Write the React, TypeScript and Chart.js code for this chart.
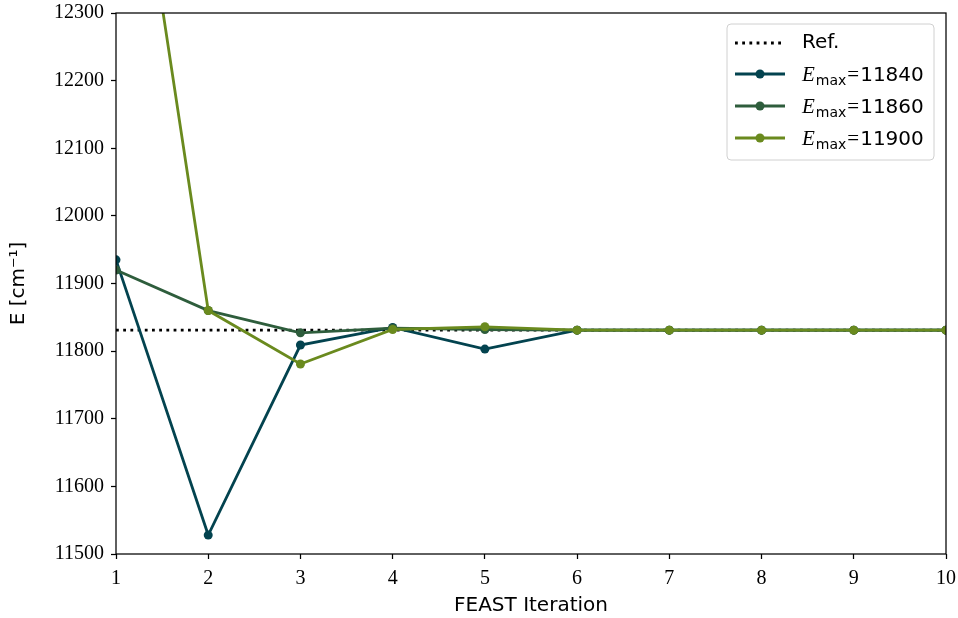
import React, { useEffect, useRef } from 'react';
import { Chart, registerables } from 'chart.js';

Chart.register(...registerables);

const iterations = [1, 2, 3, 4, 5, 6, 7, 8, 9, 10];
const refEnergy = 11831;
const emax11840 = [11935, 11528, 11809, 11835, 11803, 11831, 11831, 11831, 11831, 11831];
const emax11860 = [11920, 11860, 11827, 11834, 11832, 11831, 11831, 11831, 11831, 11831];
const emax11900 = [12760, 11860, 11781, 11832, 11836, 11831, 11831, 11831, 11831, 11831];
const yTickValues = [11500, 11600, 11700, 11800, 11900, 12000, 12100, 12200, 12300];
const xTickValues = [1, 2, 3, 4, 5, 6, 7, 8, 9, 10];
const legendValues = ['11840', '11860', '11900'];
const seriesColors = ['#03434f', '#2e5d3c', '#6a8a1e'];

const SANS = '"DejaVu Sans", sans-serif';
const SERIF = '"Liberation Serif", "DejaVu Serif", serif';

const framePlugin = {
  id: 'frameAndLegend',
  afterDatasetsDraw(chart: any) {
    const { ctx, chartArea } = chart;
    const { left, right, top, bottom } = chartArea;
    ctx.save();
    ctx.strokeStyle = '#000';
    ctx.lineWidth = 1.25;
    ctx.strokeRect(left, top, right - left, bottom - top);

    // legend
    const bw = 207;
    const bh = 136;
    const bx = right - 12 - bw;
    const by = top + 11;
    ctx.beginPath();
    const r = 4;
    ctx.moveTo(bx + r, by);
    ctx.lineTo(bx + bw - r, by);
    ctx.quadraticCurveTo(bx + bw, by, bx + bw, by + r);
    ctx.lineTo(bx + bw, by + bh - r);
    ctx.quadraticCurveTo(bx + bw, by + bh, bx + bw - r, by + bh);
    ctx.lineTo(bx + r, by + bh);
    ctx.quadraticCurveTo(bx, by + bh, bx, by + bh - r);
    ctx.lineTo(bx, by + r);
    ctx.quadraticCurveTo(bx, by, bx + r, by);
    ctx.closePath();
    ctx.fillStyle = 'rgba(255,255,255,0.8)';
    ctx.fill();
    ctx.strokeStyle = '#d0d0d0';
    ctx.lineWidth = 1;
    ctx.stroke();

    const rows = [by + 19, by + 50, by + 82, by + 114];
    const sx0 = bx + 8;
    const sx1 = bx + 58;
    const tx = bx + 75;
    ctx.textBaseline = 'middle';
    ctx.textAlign = 'left';

    // Ref row
    ctx.strokeStyle = '#000';
    ctx.lineWidth = 2.8;
    ctx.setLineDash([2.8, 4.4]);
    ctx.beginPath();
    ctx.moveTo(sx0, rows[0]);
    ctx.lineTo(sx1, rows[0]);
    ctx.stroke();
    ctx.setLineDash([]);
    ctx.fillStyle = '#000';
    ctx.font = `20px ${SANS}`;
    ctx.fillText('Ref.', tx, rows[0]);

    legendValues.forEach((val, i) => {
      const y = rows[i + 1];
      ctx.strokeStyle = seriesColors[i];
      ctx.lineWidth = 2.8;
      ctx.beginPath();
      ctx.moveTo(sx0, y);
      ctx.lineTo(sx1, y);
      ctx.stroke();
      ctx.fillStyle = seriesColors[i];
      ctx.beginPath();
      ctx.arc((sx0 + sx1) / 2, y, 4.5, 0, Math.PI * 2);
      ctx.fill();

      ctx.fillStyle = '#000';
      ctx.textBaseline = 'alphabetic';
      const base = y + 7;
      let x = tx;
      ctx.font = `italic 21px ${SERIF}`;
      ctx.fillText('E', x, base);
      x += ctx.measureText('E').width + 1;
      ctx.font = `14px ${SANS}`;
      ctx.fillText('max', x, base + 4);
      x += ctx.measureText('max').width + 1;
      ctx.font = `21px ${SERIF}`;
      ctx.fillText('=', x, base);
      x += ctx.measureText('=').width + 1;
      ctx.font = `20px ${SANS}`;
      ctx.fillText(val, x, base);
      ctx.textBaseline = 'middle';
    });
    ctx.restore();
  },
};

export default function App() {
  const canvasRef = useRef<HTMLCanvasElement | null>(null);

  useEffect(() => {
    if (!canvasRef.current) return;
    const mk = (vals: number[]) => iterations.map((x, i) => ({ x, y: vals[i] }));
    const lineStyle = (color: string, order: number) => ({
      borderColor: color,
      backgroundColor: color,
      borderWidth: 2.8,
      pointRadius: 4.5,
      pointBorderWidth: 0,
      order,
      clip: 0,
    });
    const chart = new Chart(canvasRef.current, {
      type: 'line',
      data: {
        datasets: [
          {
            label: 'Ref.',
            data: [
              { x: iterations[0], y: refEnergy },
              { x: iterations[iterations.length - 1], y: refEnergy },
            ],
            borderColor: '#000',
            borderWidth: 2.8,
            borderDash: [2.8, 4.4],
            borderCapStyle: 'butt',
            pointRadius: 0,
            order: 4,
            clip: 0,
          },
          { label: 'Emax=11840', data: mk(emax11840), ...lineStyle(seriesColors[0], 3) },
          { label: 'Emax=11860', data: mk(emax11860), ...lineStyle(seriesColors[1], 2) },
          { label: 'Emax=11900', data: mk(emax11900), ...lineStyle(seriesColors[2], 1) },
        ],
      },
      options: {
        animation: false,
        responsive: false,
        events: [],
        layout: { padding: { left: 0, right: 12, top: 13, bottom: 0 } },
        plugins: { legend: { display: false }, tooltip: { enabled: false } },
        scales: {
          x: {
            type: 'linear',
            min: 1,
            max: 10,
            afterBuildTicks: (scale: any) => {
              scale.ticks = xTickValues.map((v) => ({ value: v }));
            },
            afterFit: (scale: any) => {
              scale.height = 64;
              scale.paddingLeft = 0;
              scale.paddingRight = 0;
            },
            grid: {
              display: true,
              drawOnChartArea: false,
              drawTicks: true,
              tickLength: 5,
              color: '#000',
              tickWidth: 1.25,
            },
            border: { display: false },
            ticks: {
              color: '#000',
              font: { family: SERIF, size: 20 },
              padding: 8,
              maxRotation: 0,
              autoSkip: false,
              callback: (v: any) => String(v),
            },
            title: {
              display: true,
              text: 'FEAST Iteration',
              color: '#000',
              font: { family: SANS, size: 20 },
              padding: { top: 2, bottom: 0 },
            },
          },
          y: {
            type: 'linear',
            min: 11500,
            max: 12300,
            afterBuildTicks: (scale: any) => {
              scale.ticks = yTickValues.map((v) => ({ value: v }));
            },
            afterFit: (scale: any) => {
              scale.width = 116;
              scale.paddingTop = 0;
              scale.paddingBottom = 0;
            },
            grid: {
              display: true,
              drawOnChartArea: false,
              drawTicks: true,
              tickLength: 5,
              color: '#000',
              tickWidth: 1.25,
            },
            border: { display: false },
            ticks: {
              color: '#000',
              font: { family: SERIF, size: 20 },
              padding: 7,
              autoSkip: false,
              callback: (v: any) => String(v),
            },
            title: {
              display: true,
              text: 'E [cm\u207B\u00B9]',
              color: '#000',
              font: { family: SANS, size: 20 },
              padding: { top: 7, bottom: 0 },
            },
          },
        },
      },
      plugins: [framePlugin],
    } as any);
    return () => chart.destroy();
  }, []);

  return (
    <div style={{ position: 'absolute', left: 0, top: 0, width: 958, height: 618, background: '#fff' }}>
      <canvas ref={canvasRef} width={958} height={618} style={{ display: 'block' }} />
    </div>
  );
}
